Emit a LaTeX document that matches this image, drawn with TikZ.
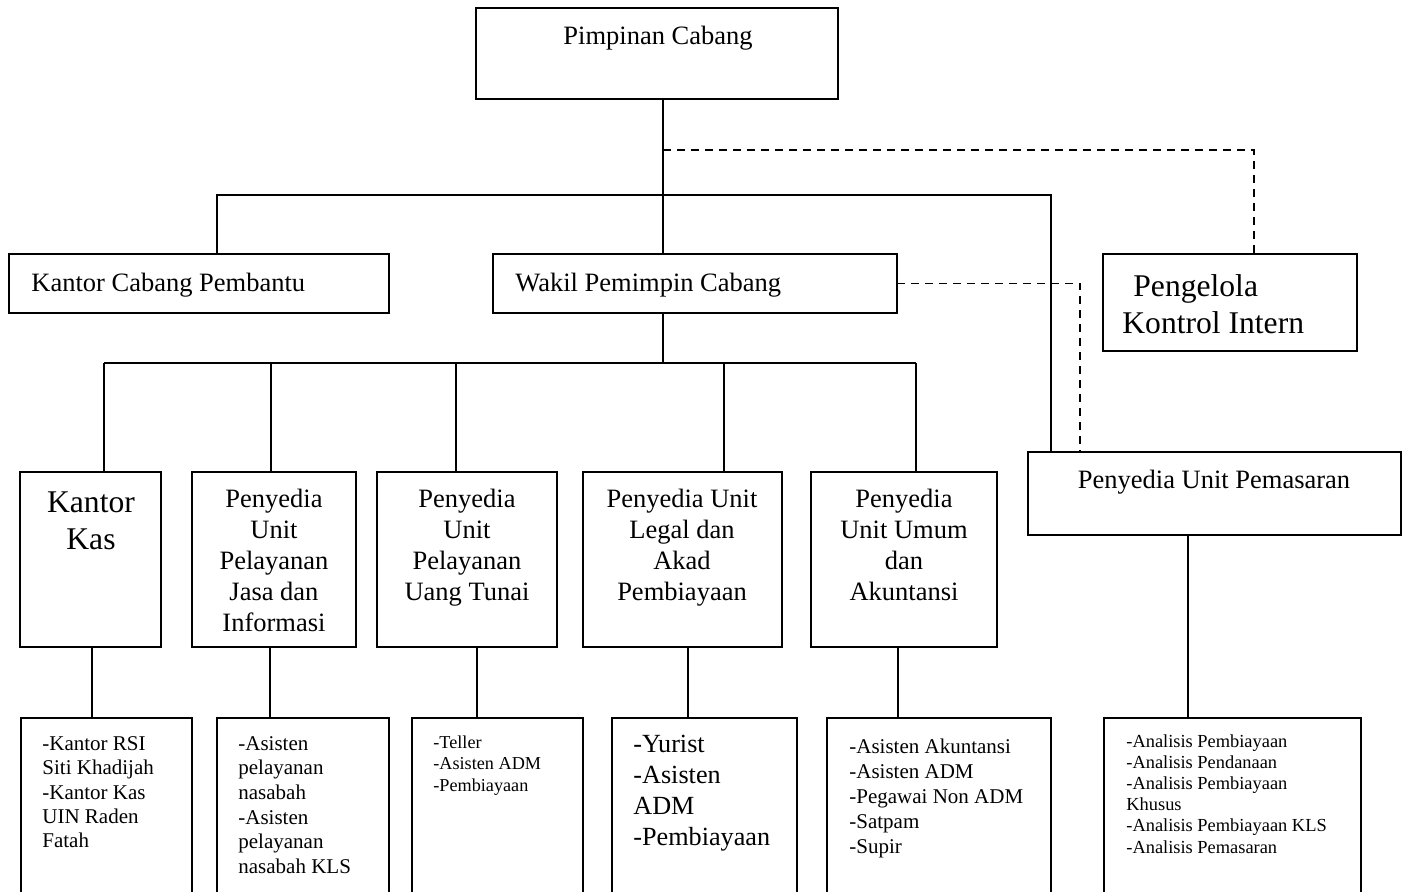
\documentclass[tikz,border=0pt]{standalone}
\usepackage{fontspec}
\setmainfont{Liberation Serif}
\newcommand{\ukuran}[2]{\fontsize{#1}{#2}\selectfont}

\begin{document}
\begin{tikzpicture}[x=0.5pt,y=-0.5pt,
  kotak/.style={draw,line width=1.3pt,inner sep=0pt,outer sep=0pt,anchor=north west},
  tipis/.style={line width=0.9pt},
  garis/.style={line width=0.7pt},
  putus/.style={line width=0.7pt,dash pattern=on 4pt off 3pt},
  teks/.style={inner sep=0pt,font=\ukuran{13.25}{15.5}}]
\useasboundingbox (0,0) rectangle (1407,892);
\clip (0,0) rectangle (1407,892);

\node[kotak,tipis,minimum width=181pt,minimum height=45.5pt] (pimpinan) at (476,8) {};
\node[kotak,tipis,minimum width=190pt,minimum height=29.5pt] (kcp) at (9,254) {};
\node[kotak,tipis,minimum width=202pt,minimum height=29.5pt] (wakil) at (493,254) {};
\node[kotak,minimum width=127pt,minimum height=48.5pt] (pki) at (1103,254) {};
\node[kotak,minimum width=186.5pt,minimum height=41.5pt] (pemasaran) at (1028,452) {};

\foreach \nama/\x/\w in {kas/20/141,jasa/192/164,tunai/377/180,legal/583/199,umum/811/186}{
	\node[kotak,minimum width=\w*0.5pt,minimum height=87.5pt] (\nama) at (\x,472) {};
	}
\foreach \nama/\x/\w in {dkas/21/171,djasa/217/172,dtunai/412/171,dlegal/612/185,dumum/827/224,dpemasaran/1104/257}{
	\node[kotak,minimum width=\w*0.5pt,minimum height=95pt] (\nama) at (\x,718) {};
	}

\node[teks,anchor=base] (tpimpinan) at (658,45) {Pimpinan Cabang};
\node[teks,anchor=base west] (tkcp) at (31,292) {Kantor Cabang Pembantu};
\node[teks,anchor=base west] (twakil) at (515,292) {Wakil Pemimpin Cabang};
\node[teks,anchor=north west,align=left,font=\ukuran{15.8}{18.5}] (tpki) at (1122,274) {\hspace{5.5pt}Pengelola\\Kontrol Intern};
\node[teks,anchor=base] (tpemasaran) at (1214,488) {Penyedia Unit Pemasaran};

\node[teks,anchor=north,align=center,font=\ukuran{15.8}{18.5}] (tkas) at (91,491) {Kantor\\Kas};
\node[teks,anchor=north,align=center] (tjasa) at (274,489) {Penyedia\\Unit\\Pelayanan\\Jasa dan\\Informasi};
\node[teks,anchor=north,align=center] (ttunai) at (467,489) {Penyedia\\Unit\\Pelayanan\\Uang Tunai};
\node[teks,anchor=north,align=center] (tlegal) at (682,489) {Penyedia Unit\\Legal dan\\Akad\\Pembiayaan};
\node[teks,anchor=north,align=center] (tumum) at (904,489) {Penyedia\\Unit Umum\\dan\\Akuntansi};

\node[teks,anchor=north west,align=left,font=\ukuran{10.5}{12.2}] (tdkas) at (42,736) {-Kantor RSI\\Siti Khadijah\\-Kantor Kas\\UIN Raden\\Fatah};
\node[teks,anchor=north west,align=left,font=\ukuran{10.5}{12.3}] (tdjasa) at (238,736) {-Asisten\\pelayanan\\nasabah\\-Asisten\\pelayanan\\nasabah KLS};
\node[teks,anchor=north west,align=left,font=\ukuran{9.1}{10.75}] (tdtunai) at (433,735) {-Teller\\-Asisten ADM\\-Pembiayaan};
\node[teks,anchor=north west,align=left,font=\ukuran{13.1}{15.5}] (tdlegal) at (633,735) {-Yurist\\-Asisten\\ADM\\-Pembiayaan};
\node[teks,anchor=north west,align=left,font=\ukuran{10.5}{12.4}] (tdumum) at (849,739) {-Asisten Akuntansi\\-Asisten ADM\\-Pegawai Non ADM\\-Satpam\\-Supir};
\node[teks,anchor=north west,align=left,font=\ukuran{9.2}{10.6}] (tdpemasaran) at (1126,734) {-Analisis Pembiayaan\\-Analisis Pendanaan\\-Analisis Pembiayaan\\Khusus\\-Analisis Pembiayaan KLS\\-Analisis Pemasaran};

\coordinate (c1) at (663,150);
\coordinate (c2) at (1254,150);
\coordinate (c3) at (217,195);
\coordinate (c4) at (1051,195);
\coordinate (c5) at (1080,283);
\coordinate (c6) at (663,363);

\draw[garis] (pimpinan.south -| c1) -- (wakil.north -| c1);
\draw[garis] (c3 |- kcp.north) -- (c3) -- (c4) -- (c4 |- pemasaran.north);
\draw[putus] (c1) -- (c2) -- (c2 |- pki.north);
\draw[putus] (wakil.east) -- (c5 |- wakil.east) -- (c5 |- pemasaran.north);
\draw[garis] (wakil.south -| c6) -- (c6);

\foreach \nama/\x in {kas/104,jasa/271,tunai/456,legal/724,umum/916}{
	\coordinate (j\nama) at (\x,363);
	\draw[garis] (j\nama) -- (j\nama |- \nama.north);
	}
\draw[garis] (jkas) -- (jumum);

\foreach \nama/\x in {kas/92,jasa/270,tunai/477,legal/688,umum/898,pemasaran/1188}{
	\coordinate (k\nama) at (\x,700);
	\draw[garis] (k\nama |- \nama.south) -- (k\nama |- d\nama.north);
	}
\end{tikzpicture}
\end{document}
